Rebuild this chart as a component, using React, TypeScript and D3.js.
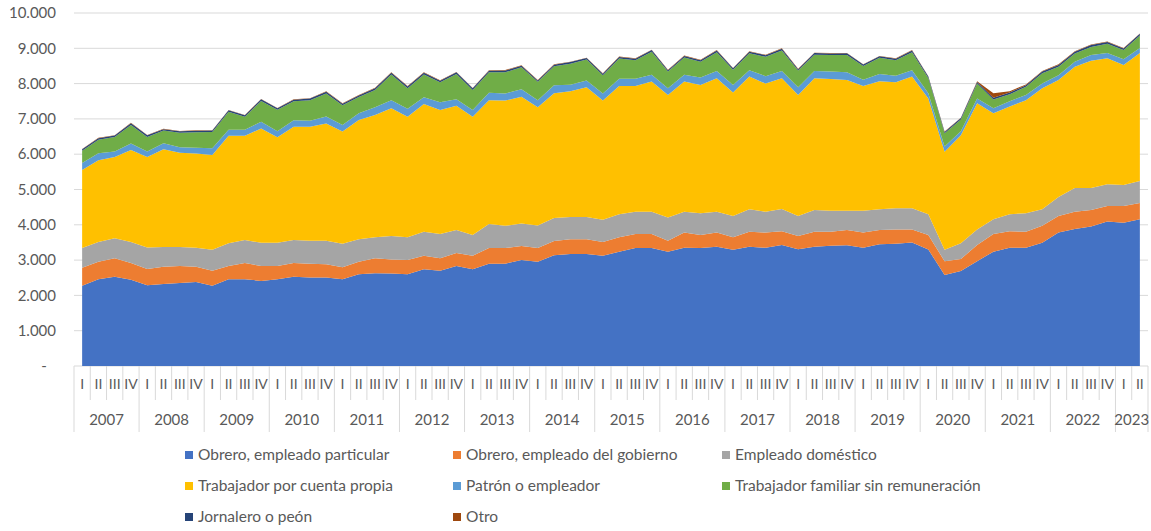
import React from 'react';
import * as d3 from 'd3';

// Población ocupada por categoría ocupacional, trimestral 2007 I – 2023 II
const years = ['2007', '2008', '2009', '2010', '2011', '2012', '2013', '2014', '2015', '2016', '2017', '2018', '2019', '2020', '2021', '2022', '2023'];
const quarters = ['I', 'II', 'III', 'IV'];
const lastYearQuarters = 2;

const particular = [2270, 2460, 2530, 2440, 2290, 2320, 2350, 2380, 2270, 2460, 2460, 2410, 2460, 2530, 2510, 2510, 2460, 2600, 2630, 2620, 2600, 2740, 2700, 2830, 2740, 2900, 2900, 3000, 2950, 3140, 3170, 3170, 3120, 3240, 3340, 3340, 3240, 3350, 3340, 3380, 3290, 3380, 3350, 3430, 3310, 3380, 3410, 3420, 3350, 3450, 3460, 3500, 3300, 2580, 2690, 2970, 3240, 3350, 3350, 3490, 3780, 3880, 3950, 4090, 4060, 4160];
const gobierno = [510, 490, 520, 480, 460, 490, 480, 430, 430, 370, 460, 420, 370, 390, 390, 370, 340, 350, 420, 400, 400, 380, 350, 370, 380, 440, 440, 400, 390, 400, 420, 420, 390, 410, 400, 400, 310, 430, 370, 400, 360, 420, 430, 390, 370, 420, 390, 430, 430, 400, 410, 370, 410, 390, 340, 460, 500, 470, 450, 480, 470, 490, 470, 440, 470, 460];
const domestico = [560, 560, 570, 590, 610, 560, 540, 540, 590, 650, 650, 660, 660, 650, 650, 670, 660, 640, 600, 660, 650, 680, 690, 650, 590, 680, 630, 640, 640, 650, 630, 630, 630, 650, 630, 630, 660, 590, 620, 590, 600, 640, 590, 630, 570, 620, 600, 550, 620, 590, 600, 600, 590, 320, 450, 440, 420, 480, 530, 470, 540, 670, 620, 620, 600, 620];
const cuentaPropia = [2210, 2320, 2300, 2610, 2560, 2770, 2670, 2670, 2690, 3040, 2950, 3240, 2990, 3210, 3230, 3320, 3180, 3380, 3460, 3620, 3410, 3620, 3510, 3520, 3350, 3510, 3550, 3590, 3350, 3540, 3560, 3680, 3380, 3630, 3560, 3690, 3470, 3690, 3630, 3780, 3500, 3760, 3630, 3700, 3430, 3730, 3730, 3700, 3530, 3630, 3570, 3730, 3280, 2780, 3060, 3570, 3000, 3050, 3200, 3430, 3310, 3440, 3610, 3570, 3400, 3630];
const patron = [200, 200, 160, 180, 160, 170, 160, 160, 190, 170, 170, 190, 170, 180, 170, 200, 190, 190, 220, 230, 230, 190, 220, 190, 190, 210, 200, 210, 200, 220, 190, 190, 200, 210, 210, 190, 190, 190, 210, 210, 210, 180, 210, 210, 220, 210, 210, 220, 180, 200, 180, 180, 150, 150, 110, 140, 140, 150, 150, 130, 140, 140, 160, 150, 160, 140];
const familiar = [350, 380, 410, 530, 410, 360, 410, 440, 460, 510, 370, 590, 610, 540, 580, 650, 560, 460, 490, 730, 580, 650, 570, 710, 570, 580, 600, 620, 520, 540, 590, 590, 520, 570, 520, 650, 470, 490, 450, 530, 430, 480, 550, 580, 470, 460, 470, 490, 390, 460, 440, 510, 430, 370, 330, 420, 250, 200, 230, 290, 240, 230, 230, 260, 260, 350];
const jornalero = [40, 45, 40, 50, 45, 40, 40, 45, 40, 45, 40, 45, 40, 45, 45, 50, 40, 45, 45, 50, 45, 45, 40, 50, 45, 45, 50, 45, 40, 45, 50, 45, 40, 45, 45, 50, 40, 45, 45, 50, 45, 45, 45, 50, 40, 45, 45, 50, 40, 45, 45, 50, 40, 40, 45, 45, 50, 45, 45, 50, 45, 50, 50, 50, 45, 50];
const otro = [10, 10, 10, 10, 10, 10, 10, 10, 10, 10, 10, 10, 10, 10, 10, 10, 10, 10, 15, 15, 15, 15, 15, 10, 10, 15, 15, 15, 10, 10, 10, 10, 10, 10, 10, 10, 10, 10, 10, 10, 10, 10, 10, 10, 10, 10, 10, 10, 10, 10, 10, 10, 10, 10, 10, 20, 130, 40, 20, 20, 20, 15, 15, 10, 10, 10];

const seriesNames = [
  'Obrero, empleado particular',
  'Obrero, empleado del gobierno',
  'Empleado doméstico',
  'Trabajador por cuenta propia',
  'Patrón o empleador',
  'Trabajador familiar sin remuneración',
  'Jornalero o peón',
  'Otro',
];
const seriesValues = [particular, gobierno, domestico, cuentaPropia, patron, familiar, jornalero, otro];
const colors = ['#4472C4', '#ED7D31', '#A5A5A5', '#FFC000', '#5B9BD5', '#70AD47', '#264478', '#9E480E'];

const FONT = 'Lato, "Open Sans", sans-serif';
const TXT = '#595959';
const GRID = '#D9D9D9';

export default function App() {
  const width = 1151;
  const height = 531;
  const plot = { left: 74, right: 1148, top: 13, bottom: 366 };

  const cats: { id: string; q: string; year: string }[] = [];
  years.forEach((yr, yi) => {
    const qs = yi === years.length - 1 ? quarters.slice(0, lastYearQuarters) : quarters;
    qs.forEach((q) => cats.push({ id: `${yr}-${q}`, q, year: yr }));
  });

  const rows = cats.map((c, i) => {
    const r: Record<string, number | string> = { id: c.id };
    seriesNames.forEach((n, s) => (r[n] = seriesValues[s][i]));
    return r;
  });

  const x = d3.scaleBand().domain(cats.map((c) => c.id)).range([plot.left, plot.right]);
  const bw = x.bandwidth();
  const cx = (id: string) => (x(id) as number) + bw / 2;
  const y = d3.scaleLinear().domain([0, 10000]).range([plot.bottom, plot.top]);

  const stacked = d3.stack<any>().keys(seriesNames)(rows);
  const area = d3
    .area<any>()
    .x((d) => cx(d.data.id))
    .y0((d) => y(d[0]))
    .y1((d) => y(d[1]));

  const locale = d3.formatLocale({ decimal: ',', thousands: '.', grouping: [3], currency: ['', ''] });
  const fmt = locale.format(',');
  const yTicks = y.ticks(10);

  const quarterLineEnd = 400;
  const yearLineEnd = 432;

  const legendCols = [185, 453, 722];
  const legendRows = [455, 486, 517];

  return (
    <svg width={width} height={height} style={{ position: 'absolute', left: 0, top: 0, background: '#fff' }} fontFamily={FONT}>
      {/* gridlines */}
      {yTicks.map((t) => (
        <line key={t} x1={plot.left} x2={plot.right} y1={y(t)} y2={y(t)} stroke={GRID} strokeWidth={1} />
      ))}
      {/* stacked areas */}
      {stacked.map((s, i) => (
        <path key={s.key} d={area(s) as string} fill={colors[i]} />
      ))}
      {/* y labels */}
      {yTicks.map((t) =>
        t === 0 ? (
          <text key={t} x={44} y={y(t)} dy="0.35em" textAnchor="middle" fontSize={15} fill={TXT}>-</text>
        ) : (
          <text key={t} x={56} y={y(t)} dy="0.35em" textAnchor="end" fontSize={15} fill={TXT}>{fmt(t)}</text>
        )
      )}
      {/* x axis: quarter separators and labels */}
      {cats.map((c, i) => {
        const left = x(c.id) as number;
        const isYearStart = c.q === 'I';
        return (
          <g key={c.id}>
            <line x1={left} x2={left} y1={plot.bottom} y2={isYearStart ? yearLineEnd : quarterLineEnd} stroke={GRID} />
            <text x={cx(c.id)} y={384} dy="0.35em" textAnchor="middle" fontSize={14} fill={TXT}>{c.q}</text>
            {i === cats.length - 1 && (
              <line x1={left + bw} x2={left + bw} y1={plot.bottom} y2={yearLineEnd} stroke={GRID} />
            )}
          </g>
        );
      })}
      {years.map((yr) => {
        const ids = cats.filter((c) => c.year === yr).map((c) => c.id);
        const mid = ((x(ids[0]) as number) + (x(ids[ids.length - 1]) as number) + bw) / 2;
        return (
          <text key={yr} x={mid} y={420} dy="0.35em" textAnchor="middle" fontSize={15} fill={TXT}>{yr}</text>
        );
      })}
      {/* legend */}
      {seriesNames.map((n, i) => {
        const lx = legendCols[i % 3];
        const ly = legendRows[Math.floor(i / 3)];
        return (
          <g key={n}>
            <rect x={lx} y={ly - 4} width={8} height={8} fill={colors[i]} />
            <text x={lx + 13} y={ly} dy="0.35em" fontSize={15.5} fill={TXT}>{n}</text>
          </g>
        );
      })}
    </svg>
  );
}
